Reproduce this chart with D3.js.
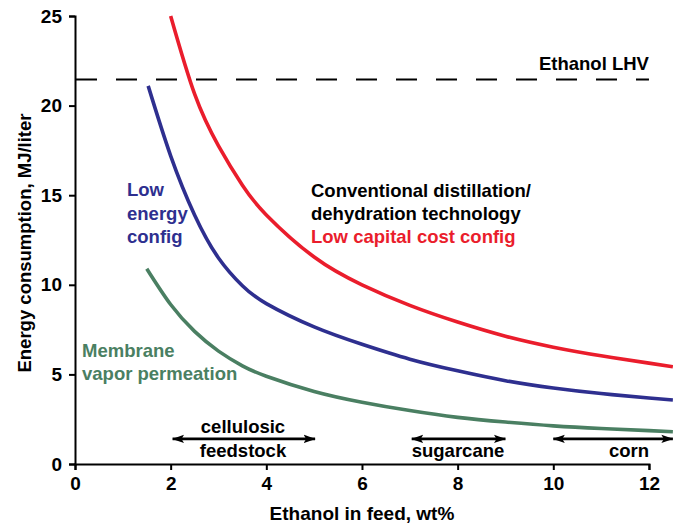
<!DOCTYPE html>
<html>
<head>
<meta charset="utf-8">
<script src="https://cdn.jsdelivr.net/npm/d3@7"></script>
<style>
  html, body { margin: 0; padding: 0; background: #fff; }
  svg text { font-family: "Liberation Sans", Arial, Helvetica, sans-serif; font-weight: bold; }
</style>
</head>
<body>
<svg id="chart" width="673" height="527"></svg>
<script>
// Axis ticks
const xTicks = [0, 2, 4, 6, 8, 10, 12];
const yTicks = [0, 5, 10, 15, 20, 25];

// Energy consumption (MJ/liter) vs ethanol in feed (wt%)
const capitalX = [2, 2.5, 3, 3.5, 4, 5, 6, 7, 8, 9, 10, 11, 12, 12.5];
const capitalY = [25, 20.65, 17.75, 15.55, 13.9, 11.55, 10.0, 8.85, 7.92, 7.13, 6.52, 6.04, 5.63, 5.43];

const energyX = [1.53, 2, 2.5, 3, 3.5, 4, 5, 6, 7, 8, 9, 10, 11, 12, 12.5];
const energyY = [21.1, 17.2, 13.9, 11.5, 9.95, 8.95, 7.65, 6.68, 5.85, 5.2, 4.65, 4.24, 3.93, 3.68, 3.57];

const membraneX = [1.5, 2, 2.5, 3, 3.5, 4, 5, 6, 7, 8, 9, 10, 11, 12, 12.5];
const membraneY = [10.9, 8.9, 7.4, 6.3, 5.48, 4.9, 4.05, 3.45, 2.98, 2.6, 2.34, 2.13, 1.98, 1.86, 1.8];

// Ethanol lower heating value reference line
const ethanolLHV = 21.45;

// Typical feed concentration ranges by feedstock
const feedstockNames = [["cellulosic", "feedstock"], ["sugarcane"], ["corn"]];
const rangeStart = [2.04, 7.04, 10];
const rangeEnd = [5.02, 9.0, 12.5];
const rangeLevel = 1.4;

const svg = d3.select("#chart");
const fontSize = 18.5;

const x = d3.scaleLinear().domain([0, 12.5]).range([75, 75 + 12.5 * 47.83]);
const y = d3.scaleLinear().domain([0, 25]).range([464, 16]);

// Axes (drawn over 0–12 and 0–25)
const xAxisScale = x.copy().domain([0, 12]).range([x(0), x(12)]);
const gx = svg.append("g")
  .attr("transform", `translate(0,${y(0)})`)
  .call(d3.axisBottom(xAxisScale).tickValues(xTicks).tickFormat(d3.format("d"))
    .tickSize(6).tickPadding(7));
const gy = svg.append("g")
  .attr("transform", `translate(${x(0)},0)`)
  .call(d3.axisLeft(y).tickValues(yTicks).tickFormat(d3.format("d"))
    .tickSize(6).tickPadding(7));

[gx, gy].forEach(g => {
  g.select(".domain").attr("stroke", "#000").attr("stroke-width", 2);
  g.selectAll(".tick line").attr("stroke", "#000").attr("stroke-width", 2);
  g.selectAll(".tick text")
    .attr("fill", "#000")
    .style("font-size", "19px")
    .style("font-family", "'Liberation Sans', Arial, sans-serif")
    .style("font-weight", "bold");
});

// Axis titles
svg.append("text")
  .attr("x", (x(0) + x(12)) / 2)
  .attr("y", 520)
  .attr("text-anchor", "middle")
  .style("font-size", "19px")
  .text("Ethanol in feed, wt%");

svg.append("text")
  .attr("transform", `translate(31,243) rotate(-90)`)
  .attr("text-anchor", "middle")
  .style("font-size", "18.5px")
  .text("Energy consumption, MJ/liter");

// LHV dashed line
svg.append("line")
  .attr("x1", x(0) + 1).attr("x2", x(12))
  .attr("y1", y(ethanolLHV)).attr("y2", y(ethanolLHV))
  .attr("stroke", "#000")
  .attr("stroke-width", 2)
  .attr("stroke-dasharray", "21,19");

svg.append("text")
  .attr("x", x(12))
  .attr("y", 70)
  .attr("text-anchor", "end")
  .style("font-size", fontSize + "px")
  .text("Ethanol LHV");

// Curves
const line = d3.line()
  .x(d => x(d[0]))
  .y(d => y(d[1]))
  .curve(d3.curveNatural);

const series = [
  { xs: capitalX, ys: capitalY, color: "#ea1d2c" },
  { xs: energyX, ys: energyY, color: "#2e2f8f" },
  { xs: membraneX, ys: membraneY, color: "#4a7f62" }
];

series.forEach(s => {
  svg.append("path")
    .datum(s.xs.map((v, i) => [v, s.ys[i]]))
    .attr("fill", "none")
    .attr("stroke", s.color)
    .attr("stroke-width", 3.6)
    .attr("stroke-linecap", "butt")
    .attr("d", line);
});

// Curve labels
function addLines(lines, x0, baselines, color, anchor) {
  const t = svg.append("text")
    .attr("text-anchor", anchor || "start")
    .attr("fill", color)
    .style("font-size", fontSize + "px");
  lines.forEach((s, i) => {
    t.append("tspan").attr("x", x0).attr("y", baselines[i]).text(s);
  });
}

addLines(["Low", "energy", "config"], 127, [195.5, 220, 243], "#2e2f8f");
addLines(["Conventional distillation/", "dehydration technology"], 311, [197, 220], "#000");
addLines(["Low capital cost config"], 311, [243], "#ea1d2c");
addLines(["Membrane", "vapor permeation"], 82, [357, 380], "#4a7f62");

// Feedstock range arrows
const defs = svg.append("defs");
defs.append("marker")
  .attr("id", "head")
  .attr("viewBox", "0 -5 12 10")
  .attr("refX", 11.5)
  .attr("refY", 0)
  .attr("markerUnits", "userSpaceOnUse")
  .attr("markerWidth", 12)
  .attr("markerHeight", 10)
  .attr("orient", "auto-start-reverse")
  .append("path")
  .attr("d", "M0,-4.2L12,0L0,4.2L2.5,0Z")
  .attr("fill", "#000");

feedstockNames.forEach((names, i) => {
  const yy = y(rangeLevel);
  svg.append("line")
    .attr("x1", x(rangeStart[i])).attr("x2", x(rangeEnd[i]))
    .attr("y1", yy).attr("y2", yy)
    .attr("stroke", "#000")
    .attr("stroke-width", 2.6)
    .attr("marker-start", "url(#head)")
    .attr("marker-end", "url(#head)");
});

const feedLabelX = [243, 458, 629];
addLines(feedstockNames[0], feedLabelX[0], [433, 457], "#000", "middle");
addLines(feedstockNames[1], feedLabelX[1], [457], "#000", "middle");
addLines(feedstockNames[2], feedLabelX[2], [457], "#000", "middle");
</script>
</body>
</html>
